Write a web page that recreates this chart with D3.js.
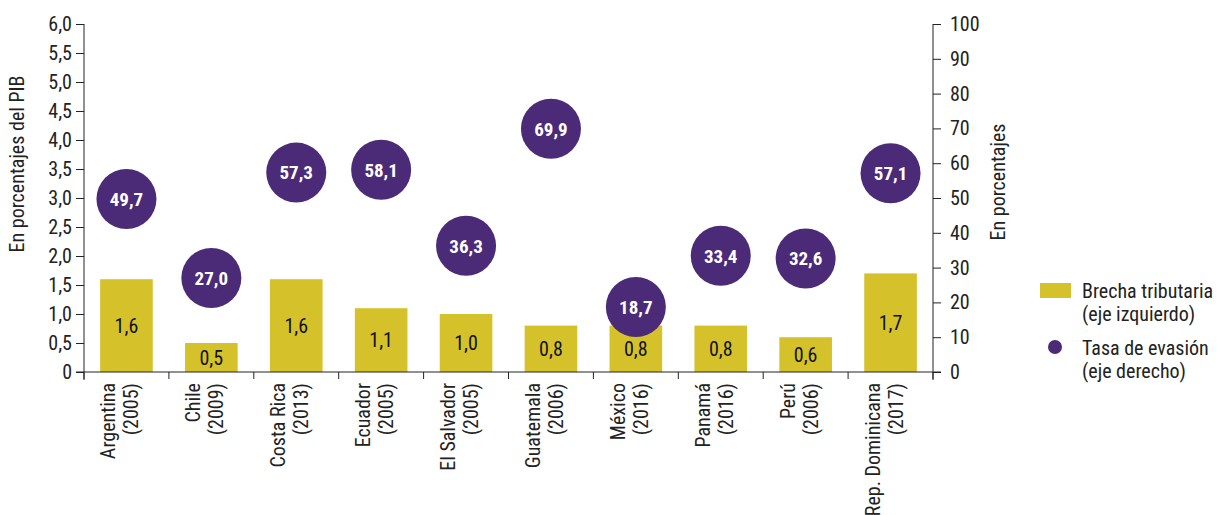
<!DOCTYPE html>
<html>
<head>
<meta charset="utf-8">
<script src="https://cdn.jsdelivr.net/npm/d3@7/dist/d3.min.js"></script>
<style>
  html, body { margin: 0; padding: 0; background: #fff; }
  svg text { font-family: "Roboto Condensed", "Liberation Sans Narrow", "DejaVu Sans Condensed", "Arial Narrow", sans-serif; }
</style>
</head>
<body>
<svg id="chart" width="1224" height="515"></svg>
<script>
// Countries (survey year) on the x axis
const countries = ["Argentina", "Chile", "Costa Rica", "Ecuador", "El Salvador", "Guatemala", "México", "Panamá", "Perú", "Rep. Dominicana"];
const years = ["(2005)", "(2009)", "(2013)", "(2005)", "(2005)", "(2006)", "(2016)", "(2016)", "(2006)", "(2017)"];
// Tax gap, % of GDP (left axis)
const brecha = [1.6, 0.5, 1.6, 1.1, 1.0, 0.8, 0.8, 0.8, 0.6, 1.7];
// Evasion rate, % (right axis)
const evasion = [49.7, 27.0, 57.3, 58.1, 36.3, 69.9, 18.7, 33.4, 32.6, 57.1];
// Axis tick values
const leftTicks = [0, 0.5, 1.0, 1.5, 2.0, 2.5, 3.0, 3.5, 4.0, 4.5, 5.0, 5.5, 6.0];
const rightTicks = [0, 10, 20, 30, 40, 50, 60, 70, 80, 90, 100];

const YELLOW = "#D5C22B";
const PURPLE = "#4B2A78";
const INK = "#222";
const FS = 20;
const fmt = v => v === 0 ? "0" : d3.format(".1f")(v).replace(".", ",");

const svg = d3.select("#chart");
const plotL = 84, plotR = 933, plotT = 24, plotB = 372;

const x = d3.scaleBand().domain(countries).range([plotL, plotR]).paddingInner(0.38).paddingOuter(0.19);
const yL = d3.scaleLinear().domain([0, 6]).range([plotB, plotT]);
const yR = d3.scaleLinear().domain([0, 100]).range([plotB, plotT]);

// Bars: tax gap
svg.append("g").selectAll("rect").data(countries).join("rect")
  .attr("x", d => x(d))
  .attr("width", x.bandwidth())
  .attr("y", (d, i) => yL(brecha[i]))
  .attr("height", (d, i) => yL(0) - yL(brecha[i]))
  .attr("fill", YELLOW);

svg.append("g").selectAll("text").data(countries).join("text")
  .attr("x", d => x(d) + x.bandwidth() / 2)
  .attr("y", (d, i) => (yL(brecha[i]) + yL(0)) / 2)
  .attr("dy", "0.35em")
  .attr("text-anchor", "middle")
  .attr("font-size", FS)
  .attr("fill", "#111")
  .text((d, i) => fmt(brecha[i]));

// Circles: evasion rate
const dots = svg.append("g").selectAll("g").data(countries).join("g")
  .attr("transform", (d, i) => `translate(${x(d) + x.bandwidth() / 2},${yR(evasion[i])})`);
dots.append("circle").attr("r", 30).attr("fill", PURPLE);
dots.append("text")
  .attr("text-anchor", "middle")
  .attr("dy", "0.36em")
  .attr("font-size", 19)
  .attr("font-weight", "bold")
  .attr("fill", "#fff")
  .text((d, i) => fmt(evasion[i]));

// Left axis
const axL = svg.append("g").attr("transform", `translate(${plotL},0)`)
  .call(d3.axisLeft(yL).tickValues(leftTicks).tickSize(8).tickPadding(4).tickFormat(fmt));
// Right axis
const axR = svg.append("g").attr("transform", `translate(${plotR},0)`)
  .call(d3.axisRight(yR).tickValues(rightTicks).tickSize(8).tickPadding(9).tickFormat(d => d));
[axL, axR].forEach(ax => {
  ax.select(".domain").remove();
  ax.selectAll("line").attr("stroke", INK);
  ax.selectAll("text").attr("font-size", FS).attr("fill", INK);
});
svg.append("line").attr("x1", plotL).attr("x2", plotL).attr("y1", plotT).attr("y2", plotB + 8).attr("stroke", INK);
svg.append("line").attr("x1", plotR).attr("x2", plotR).attr("y1", plotT).attr("y2", plotB + 8).attr("stroke", INK);

// Bottom axis: baseline with ticks at category boundaries
svg.append("line").attr("x1", plotL - 8).attr("x2", plotR + 8).attr("y1", plotB).attr("y2", plotB).attr("stroke", INK);
const step = x.step();
svg.append("g").selectAll("line").data(d3.range(countries.length + 1)).join("line")
  .attr("x1", i => plotL + i * step).attr("x2", i => plotL + i * step)
  .attr("y1", plotB).attr("y2", plotB + 7).attr("stroke", INK);

// Category labels, rotated, two lines
const lab = svg.append("g").selectAll("text").data(countries).join("text")
  .attr("transform", d => `translate(${x(d) + x.bandwidth() / 2},${plotB + 11}) rotate(-90)`)
  .attr("text-anchor", "end")
  .attr("font-size", FS)
  .attr("fill", INK);
lab.append("tspan").attr("x", 0).attr("y", -11).text(d => d);
lab.append("tspan").attr("x", 0).attr("y", 12).text((d, i) => years[i]);

// Axis titles
svg.append("text").attr("transform", "translate(24,164) rotate(-90)")
  .attr("text-anchor", "middle").attr("font-size", FS).attr("fill", INK)
  .text("En porcentajes del PIB");
svg.append("text").attr("transform", "translate(1005,182) rotate(-90)")
  .attr("text-anchor", "middle").attr("font-size", FS).attr("fill", INK)
  .text("En porcentajes");

// Legend
const lg = svg.append("g");
lg.append("rect").attr("x", 1040).attr("y", 283).attr("width", 31).attr("height", 15).attr("fill", YELLOW);
lg.append("text").attr("x", 1082).attr("y", 298).attr("font-size", FS).attr("fill", INK).text("Brecha tributaria");
lg.append("text").attr("x", 1082).attr("y", 321).attr("font-size", FS).attr("fill", INK).text("(eje izquierdo)");
lg.append("circle").attr("cx", 1055).attr("cy", 347).attr("r", 7).attr("fill", PURPLE);
lg.append("text").attr("x", 1082).attr("y", 355).attr("font-size", FS).attr("fill", INK).text("Tasa de evasión");
lg.append("text").attr("x", 1082).attr("y", 378).attr("font-size", FS).attr("fill", INK).text("(eje derecho)");
</script>
</body>
</html>
